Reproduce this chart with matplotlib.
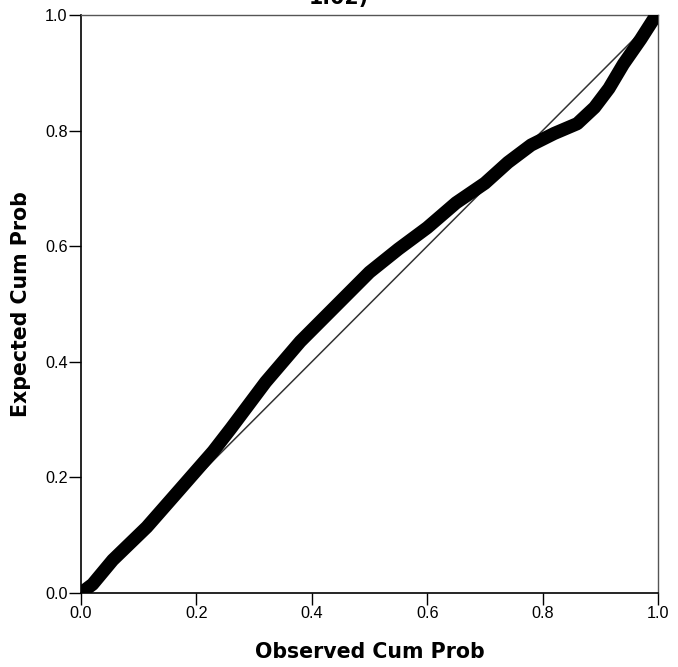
import matplotlib
matplotlib.use("Agg")
import matplotlib.pyplot as plt

# observed vs expected cumulative probability
observed = [0.0, 0.02, 0.055, 0.114, 0.172, 0.229, 0.26, 0.32, 0.38, 0.45,
            0.50, 0.55, 0.60, 0.65, 0.70, 0.74, 0.78, 0.82, 0.86, 0.89,
            0.915, 0.94, 0.97, 0.995, 1.0]
expected = [0.0, 0.015, 0.057, 0.114, 0.18, 0.245, 0.285, 0.365, 0.435, 0.505,
            0.555, 0.595, 0.632, 0.675, 0.709, 0.745, 0.775, 0.795, 0.812, 0.84,
            0.873, 0.915, 0.958, 0.997, 1.0]
ticks = [0.0, 0.2, 0.4, 0.6, 0.8, 1.0]
tick_labels = ["0.0", "0.2", "0.4", "0.6", "0.8", "1.0"]

fig = plt.figure(figsize=(6.78, 6.67), dpi=100)
ax = fig.add_axes([81/678, 74/667, 577/678, 578/667])

ax.plot([0, 1], [0, 1], color="#333333", lw=1.1, zorder=2)
ax.plot(observed, expected, color="black", lw=9.5,
        solid_capstyle="round", solid_joinstyle="round", zorder=3)

ax.set_xlim(0, 1)
ax.set_ylim(0, 1)
ax.set_xticks(ticks)
ax.set_yticks(ticks)
ax.set_xticklabels(tick_labels, family="Liberation Sans", fontsize=11.7)
ax.set_yticklabels(tick_labels, family="Liberation Sans", fontsize=11.7)
ax.tick_params(direction="out", length=8.6, width=1, pad=1, color="black")

for s in ["left", "bottom"]:
    ax.spines[s].set_color("black")
    ax.spines[s].set_linewidth(1.2)
for s in ["top", "right"]:
    ax.spines[s].set_color("#555555")
    ax.spines[s].set_linewidth(1.0)

ax.set_xlabel("Observed Cum Prob", family="DejaVu Sans", fontweight="bold",
              fontsize=14.8, labelpad=15)
ax.set_ylabel("Expected Cum Prob", family="DejaVu Sans", fontweight="bold",
              fontsize=14.8, labelpad=10)

# title is cut off by the top edge in the original
fig.text(0.5, 1 - 4/667, "1.02)", ha="center", va="baseline",
         family="DejaVu Sans", fontweight="bold", fontsize=14.8)

fig.savefig("out.png", dpi=100)
